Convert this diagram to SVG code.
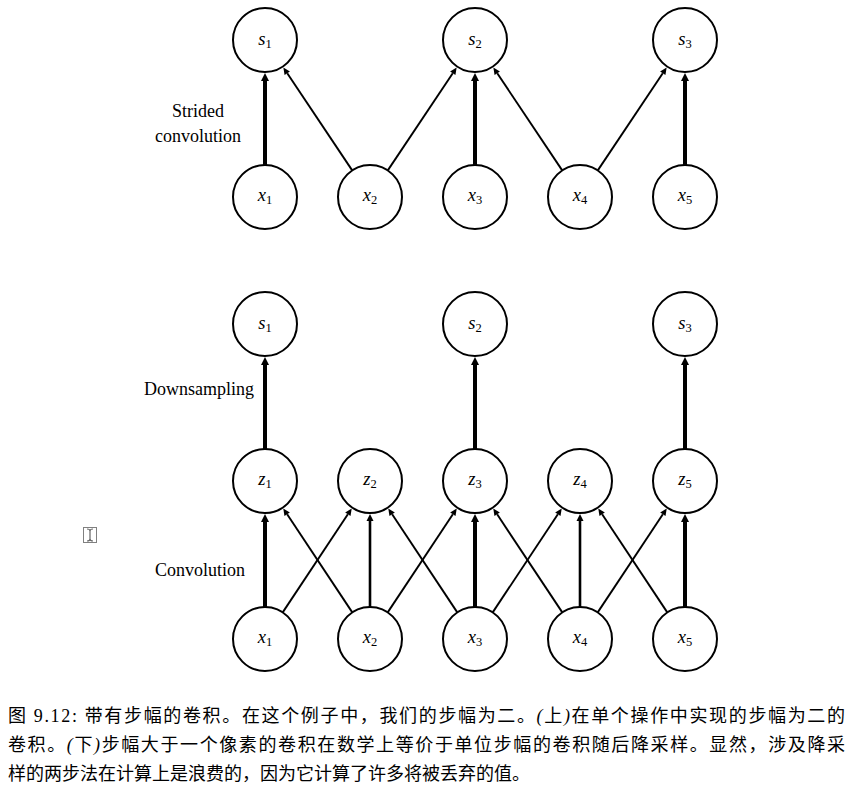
<svg xmlns="http://www.w3.org/2000/svg" width="849" height="788" viewBox="0 0 849 788">
  <style>
    .node circle { fill: #fff; stroke: #000; stroke-width: 2; }
    .node text { font-family: "Liberation Serif", "DejaVu Serif", serif; font-style: italic; font-size: 18.5px; text-anchor: middle; fill: #000; }
    .node text tspan.sub { font-style: normal; font-size: 12.5px; }
    .label { font-family: "Liberation Serif", "DejaVu Serif", serif; font-size: 18px; fill: #000; }
    .caption { font-family: "Liberation Serif", "Noto Sans CJK SC", serif; font-size: 18px; fill: #000; }
    .thick { stroke: #000; stroke-width: 4; fill: none; }
    .mid { stroke: #000; stroke-width: 2.6; fill: none; }
    .thin { stroke: #000; stroke-width: 1.9; fill: none; }
  </style>
  <defs>
    <marker id="headThick" markerUnits="userSpaceOnUse" markerWidth="10" markerHeight="10" refX="0" refY="0" viewBox="0 -5 9 10" orient="auto" overflow="visible">
      <path d="M0,-4 L8,0 L0,4 Z" fill="#000"/>
    </marker>
    <marker id="headMid" markerUnits="userSpaceOnUse" markerWidth="10" markerHeight="10" refX="0" refY="0" viewBox="0 -5 9 10" orient="auto" overflow="visible">
      <path d="M0,-3.5 L7,0 L0,3.5 Z" fill="#000"/>
    </marker>
    <marker id="headThin" markerUnits="userSpaceOnUse" markerWidth="10" markerHeight="10" refX="0" refY="0" viewBox="0 -5 9 10" orient="auto" overflow="visible">
      <path d="M0,-3.2 L7,0 L0,3.2 Z" fill="#000"/>
    </marker>
  </defs>

  <rect width="849" height="788" fill="#fff"/>

  <!-- connectors -->
  <g id="connectors">
    <!-- strided convolution -->
    <line class="thick" x1="265" y1="165" x2="265" y2="81" marker-end="url(#headThick)"/>
    <line class="thick" x1="475" y1="165" x2="475" y2="81" marker-end="url(#headThick)"/>
    <line class="thick" x1="685" y1="165" x2="685" y2="81" marker-end="url(#headThick)"/>
    <line class="thin" x1="352.2" y1="170.4" x2="287.24" y2="73.25" marker-end="url(#headThin)"/>
    <line class="thin" x1="387.8" y1="170.4" x2="452.76" y2="73.25" marker-end="url(#headThin)"/>
    <line class="thin" x1="562.2" y1="170.4" x2="497.24" y2="73.25" marker-end="url(#headThin)"/>
    <line class="thin" x1="597.8" y1="170.4" x2="662.76" y2="73.25" marker-end="url(#headThin)"/>

    <!-- downsampling -->
    <line class="thick" x1="265" y1="449" x2="265" y2="365" marker-end="url(#headThick)"/>
    <line class="thick" x1="475" y1="449" x2="475" y2="365" marker-end="url(#headThick)"/>
    <line class="thick" x1="685" y1="449" x2="685" y2="365" marker-end="url(#headThick)"/>

    <!-- unit-stride convolution: straight edges -->
    <line class="thick" x1="265" y1="607" x2="265" y2="522" marker-end="url(#headThick)"/>
    <line class="mid" x1="370" y1="607" x2="370" y2="521" marker-end="url(#headMid)"/>
    <line class="thick" x1="475" y1="607" x2="475" y2="522" marker-end="url(#headThick)"/>
    <line class="mid" x1="580" y1="607" x2="580" y2="521" marker-end="url(#headMid)"/>
    <line class="thick" x1="685" y1="607" x2="685" y2="522" marker-end="url(#headThick)"/>

    <!-- unit-stride convolution: to the left neighbour -->
    <line class="thin" x1="352.29" y1="612.35" x2="287.14" y2="514.32" marker-end="url(#headThin)"/>
    <line class="thin" x1="457.29" y1="612.35" x2="392.14" y2="514.32" marker-end="url(#headThin)"/>
    <line class="thin" x1="562.29" y1="612.35" x2="497.14" y2="514.32" marker-end="url(#headThin)"/>
    <line class="thin" x1="667.29" y1="612.35" x2="602.14" y2="514.32" marker-end="url(#headThin)"/>

    <!-- unit-stride convolution: to the right neighbour -->
    <line class="thin" x1="282.71" y1="612.35" x2="347.86" y2="514.32" marker-end="url(#headThin)"/>
    <line class="thin" x1="387.71" y1="612.35" x2="452.86" y2="514.32" marker-end="url(#headThin)"/>
    <line class="thin" x1="492.71" y1="612.35" x2="557.86" y2="514.32" marker-end="url(#headThin)"/>
    <line class="thin" x1="597.71" y1="612.35" x2="662.86" y2="514.32" marker-end="url(#headThin)"/>
  </g>

  <!-- top diagram: strided convolution -->
  <g id="top-s1" class="node"><circle cx="265" cy="40" r="32"/><text x="265" y="45">s<tspan class="sub" dy="3">1</tspan></text></g>
  <g id="top-s2" class="node"><circle cx="475" cy="40" r="32"/><text x="475" y="45">s<tspan class="sub" dy="3">2</tspan></text></g>
  <g id="top-s3" class="node"><circle cx="685" cy="40" r="32"/><text x="685" y="45">s<tspan class="sub" dy="3">3</tspan></text></g>
  <g id="top-x1" class="node"><circle cx="265" cy="197" r="32"/><text x="265" y="201">x<tspan class="sub" dy="3">1</tspan></text></g>
  <g id="top-x2" class="node"><circle cx="370" cy="197" r="32"/><text x="370" y="201">x<tspan class="sub" dy="3">2</tspan></text></g>
  <g id="top-x3" class="node"><circle cx="475" cy="197" r="32"/><text x="475" y="201">x<tspan class="sub" dy="3">3</tspan></text></g>
  <g id="top-x4" class="node"><circle cx="580" cy="197" r="32"/><text x="580" y="201">x<tspan class="sub" dy="3">4</tspan></text></g>
  <g id="top-x5" class="node"><circle cx="685" cy="197" r="32"/><text x="685" y="201">x<tspan class="sub" dy="3">5</tspan></text></g>

  <!-- bottom diagram: convolution then downsampling -->
  <g id="bot-s1" class="node"><circle cx="265" cy="324" r="32"/><text x="265" y="329">s<tspan class="sub" dy="3">1</tspan></text></g>
  <g id="bot-s2" class="node"><circle cx="475" cy="324" r="32"/><text x="475" y="329">s<tspan class="sub" dy="3">2</tspan></text></g>
  <g id="bot-s3" class="node"><circle cx="685" cy="324" r="32"/><text x="685" y="329">s<tspan class="sub" dy="3">3</tspan></text></g>
  <g id="bot-z1" class="node"><circle cx="265" cy="481" r="32"/><text x="265" y="485">z<tspan class="sub" dy="3">1</tspan></text></g>
  <g id="bot-z2" class="node"><circle cx="370" cy="481" r="32"/><text x="370" y="485">z<tspan class="sub" dy="3">2</tspan></text></g>
  <g id="bot-z3" class="node"><circle cx="475" cy="481" r="32"/><text x="475" y="485">z<tspan class="sub" dy="3">3</tspan></text></g>
  <g id="bot-z4" class="node"><circle cx="580" cy="481" r="32"/><text x="580" y="485">z<tspan class="sub" dy="3">4</tspan></text></g>
  <g id="bot-z5" class="node"><circle cx="685" cy="481" r="32"/><text x="685" y="485">z<tspan class="sub" dy="3">5</tspan></text></g>
  <g id="bot-x1" class="node"><circle cx="265" cy="639" r="32"/><text x="265" y="643">x<tspan class="sub" dy="3">1</tspan></text></g>
  <g id="bot-x2" class="node"><circle cx="370" cy="639" r="32"/><text x="370" y="643">x<tspan class="sub" dy="3">2</tspan></text></g>
  <g id="bot-x3" class="node"><circle cx="475" cy="639" r="32"/><text x="475" y="643">x<tspan class="sub" dy="3">3</tspan></text></g>
  <g id="bot-x4" class="node"><circle cx="580" cy="639" r="32"/><text x="580" y="643">x<tspan class="sub" dy="3">4</tspan></text></g>
  <g id="bot-x5" class="node"><circle cx="685" cy="639" r="32"/><text x="685" y="643">x<tspan class="sub" dy="3">5</tspan></text></g>

  <!-- row labels -->
  <g id="labels">
    <text class="label" x="198" y="117" text-anchor="middle">Strided</text>
    <text class="label" x="198" y="142" text-anchor="middle">convolution</text>
    <text class="label" x="254" y="395" text-anchor="end">Downsampling</text>
    <text class="label" x="155" y="576">Convolution</text>
  </g>

  <!-- text cursor mark -->
  <g id="cursor">
    <rect x="83.5" y="527.5" width="13" height="15" fill="none" stroke="#000" stroke-width="1" stroke-dasharray="1 1"/>
    <path d="M87,529 Q90,529 90,531 L90,539 Q90,541 87,541 M93,529 Q90,529 90,531 M90,539 Q90,541 93,541" fill="none" stroke="#666" stroke-width="1.2"/>
  </g>

  <!-- caption -->
  <g id="caption">
    <text class="caption" x="8" y="722" textLength="837" lengthAdjust="spacing">图 9.12: 带有步幅的卷积。在这个例子中，我们的步幅为二。<tspan font-style="italic">(</tspan>上<tspan font-style="italic">)</tspan>在单个操作中实现的步幅为二的</text>
    <text class="caption" x="8" y="751" textLength="837" lengthAdjust="spacing">卷积。<tspan font-style="italic">(</tspan>下<tspan font-style="italic">)</tspan>步幅大于一个像素的卷积在数学上等价于单位步幅的卷积随后降采样。显然，涉及降采</text>
    <text class="caption" x="8" y="780" textLength="522" lengthAdjust="spacing">样的两步法在计算上是浪费的，因为它计算了许多将被丢弃的值。</text>
  </g>
</svg>
